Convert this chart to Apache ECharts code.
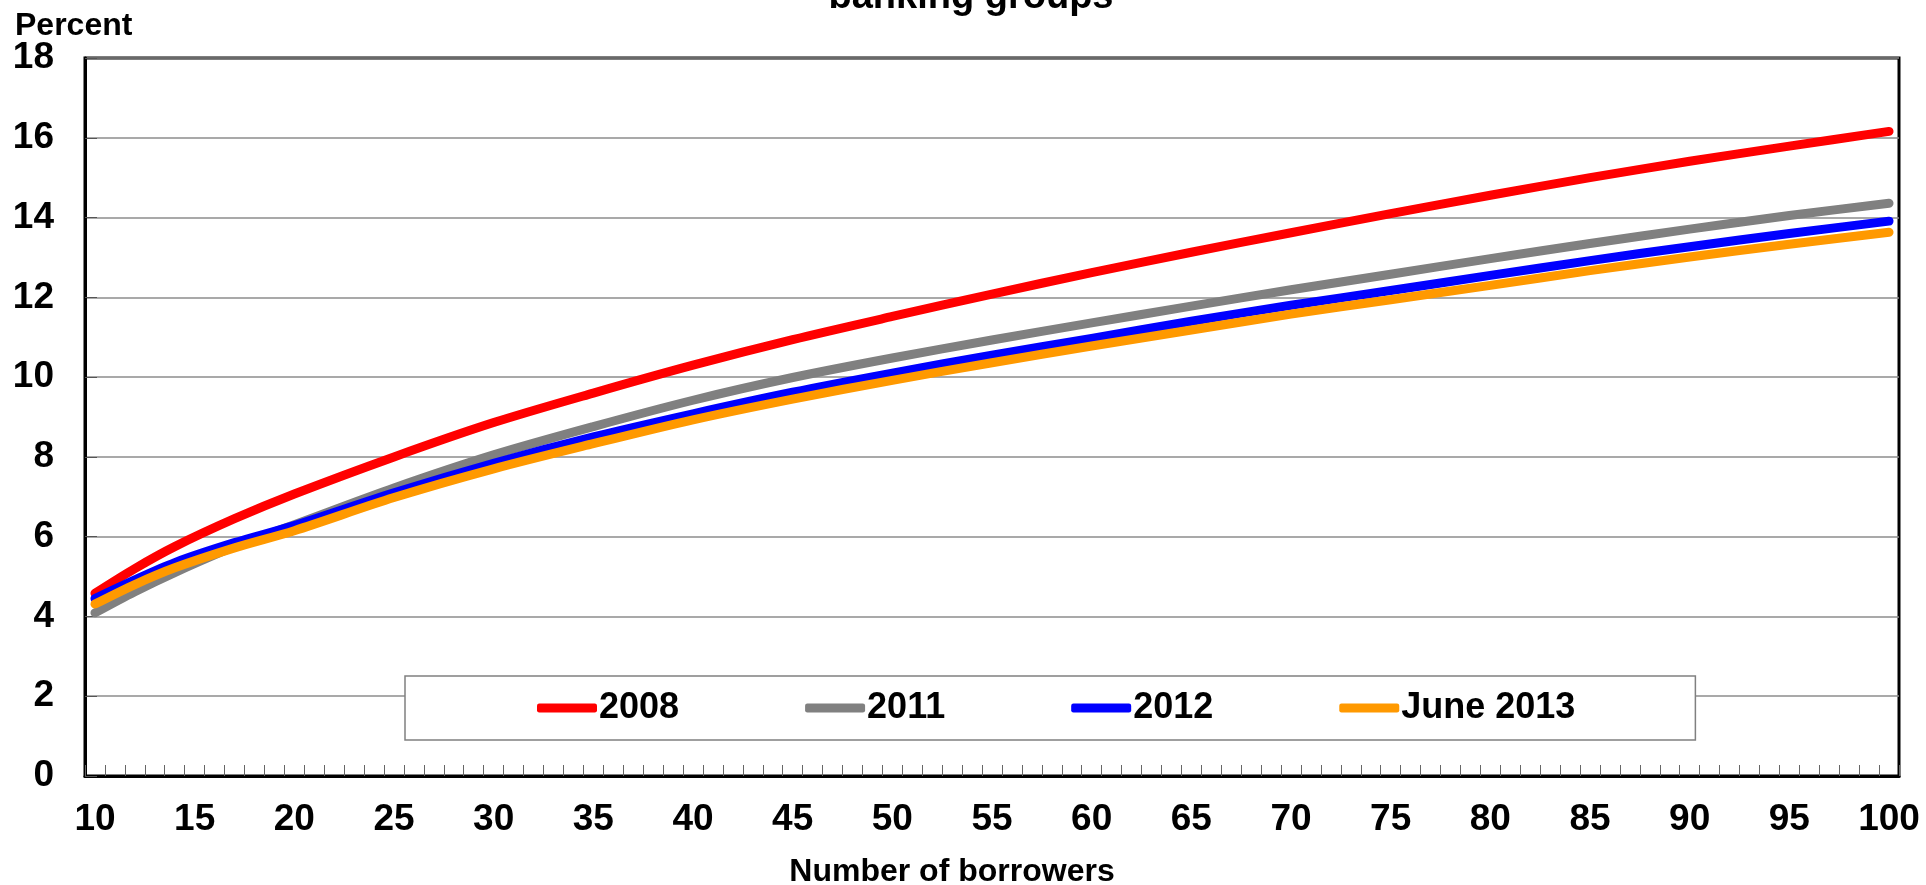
<!DOCTYPE html>
<html>
<head>
<meta charset="utf-8">
<script src="https://cdn.jsdelivr.net/npm/echarts@6/dist/echarts.min.js"></script>
<style>
html,body{margin:0;padding:0;background:#fff;}
#chart{width:1926px;height:885px;}
</style>
</head>
<body>
<div id="chart"></div>
<script>
// Number of borrowers (category axis 10..100)
const categories = [];
for (let n = 10; n <= 100; n++) categories.push(String(n));

// Points
const sampleX = [10, 12, 14, 17, 20, 25, 30, 35, 40, 45, 50, 55, 60, 65, 70, 75, 80, 85, 90, 95, 100];
const s2008 = [4.58, 5.20, 5.75, 6.45, 7.07, 8.00, 8.86, 9.60, 10.30, 10.94, 11.52, 12.08, 12.62, 13.13, 13.62, 14.10, 14.56, 15.00, 15.41, 15.79, 16.16];
const s2011 = [4.09, 4.62, 5.10, 5.75, 6.30, 7.22, 8.05, 8.76, 9.42, 9.99, 10.48, 10.93, 11.36, 11.78, 12.19, 12.58, 12.97, 13.35, 13.71, 14.05, 14.36];
const s2012 = [4.45, 4.92, 5.35, 5.85, 6.28, 7.10, 7.84, 8.50, 9.08, 9.62, 10.10, 10.55, 10.97, 11.40, 11.80, 12.17, 12.55, 12.92, 13.27, 13.60, 13.91];
const sJun2013 = [4.31, 4.80, 5.22, 5.72, 6.15, 6.98, 7.70, 8.33, 8.93, 9.45, 9.92, 10.36, 10.78, 11.18, 11.58, 11.94, 12.30, 12.67, 13.01, 13.33, 13.63];

const seriesNames = ['2008', '2011', '2012', 'June 2013'];
const seriesColors = ['#FF0000', '#808080', '#0000FF', '#FF9900'];
const seriesValues = [s2008, s2011, s2012, sJun2013];

const yTicks = { min: 0, max: 18, interval: 2 };

const FONT = "'Liberation Sans', Arial, sans-serif";

const chart = echarts.init(document.getElementById('chart'), null, { renderer: 'canvas' });

const series = seriesNames.map((name, i) => ({
  name: name,
  type: 'line',
  smooth: 0.3,
  connectNulls: true,
  showSymbol: false,
  symbol: 'none',
  lineStyle: { color: seriesColors[i], width: 9, cap: 'round', join: 'round' },
  itemStyle: { color: seriesColors[i] },
  data: sampleX.map((x, k) => [String(x), seriesValues[i][k]]),
  z: 3 + i
}));

chart.setOption({
  animation: false,
  backgroundColor: '#ffffff',
  textStyle: { fontFamily: FONT, fontWeight: 'bold', color: '#000' },
  grid: {
    left: 85, right: 27, top: 58, bottom: 109,
    outerBoundsMode: 'none',
    containLabel: false,
    show: true, borderColor: '#000', borderWidth: 3, backgroundColor: 'transparent'
  },
  graphic: [
    {
      type: 'text', x: 971, y: -2, z: 10,
      style: { text: 'banking groups', fill: '#000', font: 'bold 38px ' + FONT, align: 'center', verticalAlign: 'middle', textAlign: 'center', textVerticalAlign: 'middle' }
    },
    {
      type: 'text', x: 15, y: 26, z: 10,
      style: { text: 'Percent', fill: '#000', font: 'bold 32px ' + FONT, align: 'left', verticalAlign: 'middle', textAlign: 'left', textVerticalAlign: 'middle' }
    }
  ],
  legend: {
    data: seriesNames,
    left: 405, top: 676,
    orient: 'horizontal',
    padding: [14, 120, 14, 132],
    itemGap: 126,
    itemWidth: 60, itemHeight: 9,
    icon: 'roundRect',
    backgroundColor: '#ffffff',
    borderColor: '#808080', borderWidth: 1.5,
    textStyle: { fontFamily: FONT, fontWeight: 'bold', fontSize: 36, color: '#000', padding: [0, 0, 0, -3] },
    z: 20
  },
  xAxis: {
    type: 'category',
    data: categories,
    boundaryGap: true,
    name: 'Number of borrowers',
    nameLocation: 'middle',
    nameGap: 80,
    nameTextStyle: { fontFamily: FONT, fontWeight: 'bold', fontSize: 32, color: '#000', padding: [0, 80, 0, 0] },
    axisLine: { show: true, lineStyle: { color: '#000', width: 3 } },
    axisTick: { show: true, inside: true, interval: 0, length: 11, lineStyle: { color: '#666', width: 1 } },
    axisLabel: { interval: 4, margin: 25, fontFamily: FONT, fontWeight: 'bold', fontSize: 37, color: '#000' },
    splitLine: { show: false }
  },
  yAxis: {
    type: 'value',
    min: yTicks.min, max: yTicks.max, interval: yTicks.interval,
    axisLine: { show: true, lineStyle: { color: '#000', width: 3 } },
    axisTick: { show: true, inside: true, length: 12, lineStyle: { color: '#555', width: 1 } },
    axisLabel: { margin: 31, fontFamily: FONT, fontWeight: 'bold', fontSize: 37, color: '#000' },
    splitLine: { show: true, lineStyle: { color: '#8c8c8c', width: 1.5 } }
  },
  series: series
});
</script>
</body>
</html>
